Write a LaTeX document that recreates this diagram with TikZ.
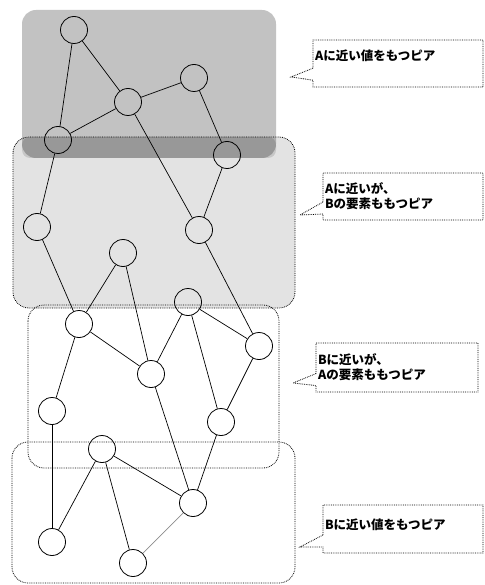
\documentclass[tikz,border=0pt]{standalone}
\usepackage{fontspec}
\newfontfamily\jpfont{Noto Sans CJK JP}
\usetikzlibrary{shapes.callouts}

\begin{document}
\begin{tikzpicture}[x=1pt,y=-1pt,
        peer/.style={circle,draw,line width=0.8pt,minimum size=27pt,inner sep=0pt},
        link/.style={line width=0.7pt},
        group/.style={rounded corners=16pt,densely dotted,line width=0.8pt},
        note/.style={rectangle callout,draw,densely dotted,line width=0.8pt,
            callout pointer width=12pt,inner xsep=2pt,align=left,
            font=\jpfont\bfseries\fontsize{12.5pt}{15pt}\selectfont}]
        \useasboundingbox (0,0) rectangle (484,585);

        \fill[black,fill opacity=0.24,rounded corners=14pt] (22,10) rectangle (276,158);
        \draw[group,fill=black,fill opacity=0.11] (13,137) rectangle (295,308);
        \fill[black,fill opacity=0.12,rounded corners=8pt] (22,137) rectangle (276,158);
        \draw[group] (28,305) rectangle (279,468);
        \draw[group] (12,442) rectangle (295,583);

        \node[peer] (p1) at (74,30) {};
        \node[peer] (p2) at (128,102) {};
        \node[peer] (p3) at (194,78) {};
        \node[peer] (p4) at (58,140) {};
        \node[peer] (p5) at (227,155) {};
        \node[peer] (p6) at (37,227) {};
        \node[peer] (p7) at (199,230) {};
        \node[peer] (p8) at (123,253) {};
        \node[peer] (p9) at (188,302) {};
        \node[peer] (p10) at (79,324) {};
        \node[peer] (p11) at (259,346) {};
        \node[peer] (p12) at (151,374) {};
        \node[peer] (p13) at (52,411) {};
        \node[peer] (p14) at (221,422) {};
        \node[peer] (p15) at (102,449) {};
        \node[peer] (p16) at (193,503) {};
        \node[peer] (p17) at (52,542) {};
        \node[peer] (p18) at (133,563) {};

        \draw[link] (p1) -- (p4);
        \draw[link] (p1) -- (p2);
        \draw[link] (p2) -- (p3);
        \draw[link] (p2) -- (p4);
        \draw[link] (p3) -- (p5);
        \draw[link] (p2) -- (p7);
        \draw[link] (p5) -- (p7);
        \draw[link] (p7) -- (p11);
        \draw[link] (p4) -- (p6);
        \draw[link] (p6) -- (p10);
        \draw[link] (p8) -- (p10);
        \draw[link] (p8) -- (p12);
        \draw[link] (p9) -- (p12);
        \draw[link] (p9) -- (p11);
        \draw[link] (p9) -- (p14);
        \draw[link] (p10) -- (p12);
        \draw[link] (p10) -- (p13);
        \draw[link] (p11) -- (p14);
        \draw[link] (p12) -- (p16);
        \draw[link] (p14) -- (p16);
        \draw[link] (p13) -- (p17);
        \draw[link] (p15) -- (p17);
        \draw[link] (p15) -- (p16);
        \draw[link] (p15) -- (p18);
        \draw[link,black!45] (p16) -- (p18);

        \coordinate (tipA) at (291,77);
        \coordinate (tipAB) at (300,215);
        \coordinate (tipBA) at (293,383);
        \coordinate (tipB) at (300,547);

        \node[note,minimum width=170pt,minimum height=47pt,text width=166pt,
            text height=10pt,text depth=15pt,callout absolute pointer={(tipA)}]
            (noteA) at (398,63.5) {Aに近い値をもつピア};
        \node[note,minimum width=160pt,minimum height=47pt,text width=156pt,
            callout absolute pointer={(tipAB)}]
            (noteAB) at (403,196.5) {Aに近いが、\\Bの要素ももつピア};
        \node[note,minimum width=162pt,minimum height=49pt,text width=158pt,
            callout absolute pointer={(tipBA)}]
            (noteBA) at (397,367.5) {Bに近いが、\\Aの要素ももつピア};
        \node[note,minimum width=160pt,minimum height=48pt,text width=156pt,
            text height=10pt,text depth=10pt,callout absolute pointer={(tipB)}]
            (noteB) at (403,529) {Bに近い値をもつピア};
    \end{tikzpicture}
\end{document}
